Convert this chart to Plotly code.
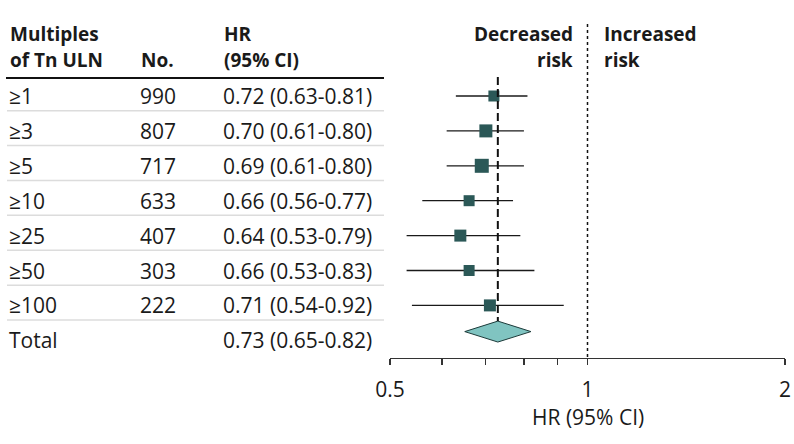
import plotly.graph_objects as go

# ---- data ----
categories = ["≥1", "≥3", "≥5", "≥10", "≥25", "≥50", "≥100"]
counts = [990, 807, 717, 633, 407, 303, 222]
hr = [0.72, 0.70, 0.69, 0.66, 0.64, 0.66, 0.71]
ci_low = [0.63, 0.61, 0.61, 0.56, 0.53, 0.53, 0.54]
ci_high = [0.81, 0.80, 0.80, 0.77, 0.79, 0.83, 0.92]
total_label = "Total"
total_hr = 0.73
total_low = 0.65
total_high = 0.82
tick_vals = [0.5, 0.6, 0.7, 0.8, 0.9, 1, 2]
tick_text = ["0.5", "", "", "", "", "1", "2"]

# ---- styles ----
W, H = 794, 444
FONT = "Open Sans"
TXT = "#1a1a1a"
MARK = "#2b5857"
DIAM = "#80c4c1"
marker_sizes = [11, 13, 14, 11, 12, 11, 12]
row0_px, row_px = 96, 34.9
px2row = lambda p: (p - row0_px) / row_px
xp = lambda p: p / W
REG = 21
BOLD = 19

fig = go.Figure()

n_rows = len(categories)
total_row = n_rows

# CI lines
xs, ys = [], []
for i, (a, b) in enumerate(zip(ci_low, ci_high)):
    xs += [a, b, None]
    ys += [i, i, None]
fig.add_trace(go.Scatter(x=xs, y=ys, mode="lines",
                         line=dict(color="#1a1a1a", width=1.3),
                         hoverinfo="skip", showlegend=False))

# Total diamond
dy = 0.25
hh = 0.30
dc = total_row - dy
fig.add_trace(go.Scatter(
    x=[total_low, total_hr, total_high, total_hr, total_low],
    y=[dc, dc - hh, dc, dc + hh, dc],
    mode="lines", fill="toself", fillcolor=DIAM,
    line=dict(color="#1d3b3a", width=1),
    hoverinfo="skip", showlegend=False))

# point estimates
fig.add_trace(go.Scatter(x=hr, y=list(range(n_rows)), mode="markers",
                         marker=dict(symbol="square", size=marker_sizes,
                                     color=MARK, opacity=1,
                                     line=dict(color=MARK, width=0)),
                         hoverinfo="skip", showlegend=False))

# dashed reference line at total HR
fig.add_trace(go.Scatter(x=[total_hr, total_hr], y=[px2row(77), dc - hh],
                         mode="lines",
                         line=dict(color="#111111", width=2, dash="8px,4px"),
                         hoverinfo="skip", showlegend=False))

# dotted line at HR = 1
fig.add_trace(go.Scatter(x=[1, 1], y=[px2row(24), px2row(358)],
                         mode="lines",
                         line=dict(color="#111111", width=1.5, dash="dot"),
                         hoverinfo="skip", showlegend=False))

ann = []
def text(x, y, s, anchor="left", bold=False, size=REG, yref="y"):
    ann.append(dict(x=x, y=y, xref="paper", yref=yref, text=(f"<b>{s}</b>" if bold else s),
                    showarrow=False, xanchor=anchor, yanchor="middle",
                    font=dict(family=FONT, size=size, color=TXT)))

# headers
h1, h2 = px2row(34), px2row(60)
text(xp(8), h1, "Multiples", bold=True, size=BOLD)
text(xp(8), h2, "of Tn ULN", bold=True, size=BOLD)
text(xp(139), h2, "No.", bold=True, size=BOLD)
text(xp(222), h1, "HR", bold=True, size=BOLD)
text(xp(222), h2, "(95% CI)", bold=True, size=BOLD)
text(xp(575), h1, "Decreased", anchor="right", bold=True, size=BOLD)
text(xp(575), h2, "risk", anchor="right", bold=True, size=BOLD)
text(xp(602), h1, "Increased", bold=True, size=BOLD)
text(xp(602), h2, "risk", bold=True, size=BOLD)

labels = categories + [total_label]
nums = [str(c) for c in counts] + [""]
his = [f"{h:.2f} ({l:.2f}-{u:.2f})" for h, l, u in zip(hr, ci_low, ci_high)] + \
      [f"{total_hr:.2f} ({total_low:.2f}-{total_high:.2f})"]
for i, (lab, n, s) in enumerate(zip(labels, nums, his)):
    text(xp(7), i, lab)
    if n:
        text(xp(138), i, n)
    text(xp(221), i, s)

# axis title
text(xp(588), 1 - 417 / H, "HR (95% CI)", anchor="center", yref="paper")

shapes = []
shapes.append(dict(type="line", xref="paper", yref="y", x0=xp(6), x1=xp(384),
                   y0=px2row(78), y1=px2row(78), line=dict(color="#111111", width=2)))
for i in range(n_rows):
    y = i + 0.42
    shapes.append(dict(type="line", xref="paper", yref="y", x0=xp(7), x1=xp(384),
                       y0=y, y1=y, line=dict(color="#dcdcdc", width=1.5)))

fig.update_layout(
    template="none",
    width=W, height=H, autosize=False,
    margin=dict(l=0, r=0, t=0, b=0, pad=0, autoexpand=False),
    paper_bgcolor="white", plot_bgcolor="white",
    font=dict(family=FONT, size=REG, color=TXT),
    annotations=ann, shapes=shapes,
    showlegend=False,
    xaxis=dict(type="log", range=[-0.30103, 0.30103],
               domain=[390 / W, 785 / W],
               anchor="free", position=1 - 358 / H, automargin=False,
               tickvals=tick_vals, ticktext=tick_text,
               ticks="outside", ticklen=6, tickwidth=1.2, tickcolor="#333333",
               showline=True, linecolor="#333333", linewidth=1.3,
               showgrid=False, zeroline=False, fixedrange=True,
               tickfont=dict(family=FONT, size=REG, color=TXT),
               ticklabelstandoff=6),
    yaxis=dict(range=[px2row(H), px2row(0)], domain=[0, 1], automargin=False,
               visible=False, showgrid=False, zeroline=False, fixedrange=True),
)

fig.write_html("out.html", config={"displayModeBar": False, "staticPlot": True},
               post_script="document.body.style.margin='0px';")
